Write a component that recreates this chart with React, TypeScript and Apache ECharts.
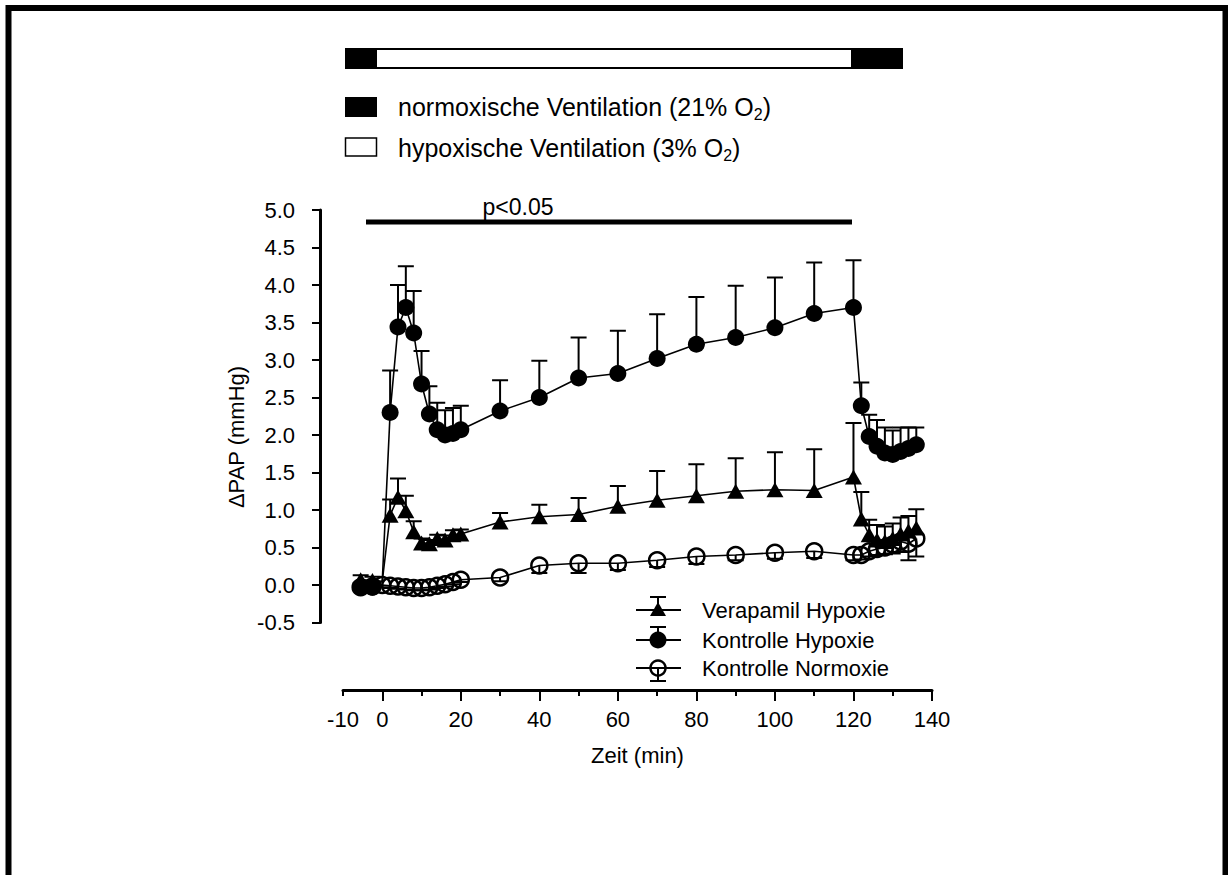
import React, { useEffect, useRef } from 'react';
import * as echarts from 'echarts';

const FONT = '"Liberation Sans", Arial, Helvetica, sans-serif';

// time points (min)
const times = [-5.5, -2.5, 0, 2, 4, 6, 8, 10, 12, 14, 16, 18, 20, 30, 40, 50, 60, 70, 80, 90, 100, 110, 120, 122, 124, 126, 128, 130, 132, 134, 136];

// Verapamil Hypoxie: mean and upper end of error bar
const verapamilMean = [0.07, 0.06, 0.05, 0.93, 1.17, 0.99, 0.71, 0.56, 0.55, 0.62, 0.60, 0.67, 0.68, 0.84, 0.91, 0.94, 1.05, 1.13, 1.19, 1.25, 1.27, 1.26, 1.44, 0.88, 0.67, 0.60, 0.58, 0.62, 0.68, 0.72, 0.76];
const verapamilUpper = [0.13, 0.11, null, 1.14, 1.42, 1.19, 0.85, 0.62, 0.60, 0.67, 0.66, 0.73, 0.74, 0.96, 1.07, 1.16, 1.32, 1.52, 1.61, 1.69, 1.77, 1.81, 2.16, 1.24, 0.87, 0.80, 0.78, 0.82, 0.90, 0.92, 1.01];

// Kontrolle Hypoxie
const hypoxieMean = [-0.03, -0.03, 0.05, 2.30, 3.44, 3.70, 3.36, 2.68, 2.28, 2.07, 2.00, 2.02, 2.07, 2.32, 2.50, 2.76, 2.82, 3.02, 3.21, 3.30, 3.43, 3.62, 3.70, 2.39, 1.98, 1.85, 1.76, 1.74, 1.78, 1.82, 1.87];
const hypoxieUpper = [0.02, 0.02, null, 2.86, 4.00, 4.25, 3.92, 3.12, 2.65, 2.43, 2.33, 2.36, 2.39, 2.73, 2.99, 3.30, 3.39, 3.61, 3.84, 3.99, 4.10, 4.30, 4.33, 2.70, 2.27, 2.20, 2.10, 2.06, 2.10, 2.10, 2.10];

// Kontrolle Normoxie: mean and lower end of error bar
const normoxieMean = [-0.03, -0.02, 0.00, -0.01, -0.02, -0.03, -0.04, -0.04, -0.03, -0.01, 0.01, 0.04, 0.07, 0.10, 0.26, 0.29, 0.29, 0.33, 0.38, 0.40, 0.43, 0.45, 0.40, 0.40, 0.45, 0.48, 0.50, 0.54, 0.58, 0.55, 0.62];
const normoxieLower = [-0.06, -0.05, -0.03, -0.04, -0.05, -0.06, -0.07, -0.07, -0.06, -0.04, -0.02, 0.01, 0.04, 0.05, 0.16, 0.16, 0.20, 0.24, 0.28, 0.33, 0.35, 0.36, 0.33, 0.34, 0.38, 0.40, 0.41, 0.42, 0.44, 0.33, 0.38];

// hypoxic series start at t = 0 without a visible marker
const hiddenMarkerTimes = [0];

const xMinorTicks = [-10, 10, 30, 50, 70, 90, 110, 130];
const xMajorTicks = [0, 20, 40, 60, 80, 100, 120, 140];
const xTickLabels = [-10, 0, 20, 40, 60, 80, 100, 120, 140];

const seriesNames = ['Verapamil Hypoxie', 'Kontrolle Hypoxie', 'Kontrolle Normoxie'];

function errorSeries(name: string, means: number[], ends: (number | null)[]) {
  const data: number[][] = [];
  times.forEach((t, i) => {
    const e = ends[i];
    if (e !== null && e !== undefined) data.push([t, means[i], e]);
  });
  return {
    type: 'custom',
    name: name + ' SEM',
    silent: true,
    z: 2,
    data,
    encode: { x: 0, y: [1, 2] },
    renderItem: (params: any, api: any) => {
      const x = api.value(0);
      const p1 = api.coord([x, api.value(1)]);
      const p2 = api.coord([x, api.value(2)]);
      return {
        type: 'group',
        children: [
          { type: 'line', shape: { x1: p1[0], y1: p1[1], x2: p2[0], y2: p2[1] }, style: { stroke: '#000', lineWidth: 2 } },
          { type: 'line', shape: { x1: p2[0] - 8, y1: p2[1], x2: p2[0] + 8, y2: p2[1] }, style: { stroke: '#000', lineWidth: 2 } },
        ],
      };
    },
  };
}

function lineData(means: number[], hideStart: boolean) {
  return times.map((t, i) =>
    hideStart && hiddenMarkerTimes.includes(t) ? { value: [t, means[i]], symbolSize: 0 } : [t, means[i]]
  );
}

export default function App() {
  const ref = useRef<HTMLDivElement>(null);
  useEffect(() => {
    if (!ref.current) return;
    const chart = echarts.init(ref.current, undefined, { renderer: 'svg' });
    const txt = { fontFamily: FONT, fontSize: 22, color: '#000' };
    const sub = (s: string) => ({
      text: s,
      rich: {
        a: { fontFamily: FONT, fontSize: 25, fill: '#000', lineHeight: 30 },
        s: { fontFamily: FONT, fontSize: 16, fill: '#000', lineHeight: 16, verticalAlign: 'bottom' },
      },
      verticalAlign: 'middle',
      align: 'left',
    });
    const legendRow = (y: number, kind: number) => {
      const cx = 658;
      const els: any[] = [
        { type: 'line', shape: { x1: 636, y1: y, x2: 681, y2: y }, style: { stroke: '#000', lineWidth: 2 } },
      ];
      const capY = kind === 2 ? y + 13 : y - 13;
      els.push({ type: 'line', shape: { x1: cx, y1: y, x2: cx, y2: capY }, style: { stroke: '#000', lineWidth: 2 } });
      els.push({ type: 'line', shape: { x1: cx - 8, y1: capY, x2: cx + 8, y2: capY }, style: { stroke: '#000', lineWidth: 2 } });
      if (kind === 0) {
        els.push({ type: 'polygon', shape: { points: [[cx, y - 8], [cx - 8, y + 6], [cx + 8, y + 6]] }, style: { fill: '#000' } });
      } else if (kind === 1) {
        els.push({ type: 'circle', shape: { cx, cy: y, r: 8.5 }, style: { fill: '#000' } });
      } else {
        els.push({ type: 'circle', shape: { cx, cy: y, r: 7.5 }, style: { fill: 'none', stroke: '#000', lineWidth: 2.5 } });
      }
      els.push({
        type: 'text', x: 702, y,
        style: { text: seriesNames[kind], fontFamily: FONT, fontSize: 22, fill: '#000', verticalAlign: 'middle', align: 'left' },
      });
      return els;
    };

    const option: any = {
      animation: false,
      backgroundColor: '#fff',
      grid: { left: 343, right: 296, top: 210, bottom: 252.5, containLabel: false },
      xAxis: [
        {
          type: 'value', min: -10, max: 140, interval: 10, position: 'bottom', offset: 67.5,
          axisLine: { show: true, onZero: false, lineStyle: { color: '#000', width: 3 } },
          axisTick: { show: true, length: 6, customValues: xMinorTicks, lineStyle: { color: '#000', width: 2 } },
          axisLabel: { show: true, customValues: xTickLabels, margin: 18, ...txt },
          splitLine: { show: false },
          name: 'Zeit (min)', nameLocation: 'middle', nameGap: 54,
          nameTextStyle: { ...txt },
        },
        {
          type: 'value', min: -10, max: 140, interval: 10, position: 'bottom', offset: 67.5,
          axisLine: { show: false, onZero: false },
          axisTick: { show: true, length: 11, customValues: xMajorTicks, lineStyle: { color: '#000', width: 2 } },
          axisLabel: { show: false },
          splitLine: { show: false },
        },
      ],
      yAxis: {
        type: 'value', min: -0.5, max: 5, interval: 0.5, position: 'left', offset: 23,
        axisLine: { show: true, onZero: false, lineStyle: { color: '#000', width: 3 } },
        axisTick: { show: true, length: 8, lineStyle: { color: '#000', width: 2 } },
        axisLabel: { formatter: (v: number) => v.toFixed(1), margin: 25, ...txt },
        splitLine: { show: false },
      },
      series: [
        errorSeries(seriesNames[2], normoxieMean, normoxieLower),
        {
          type: 'line', name: seriesNames[2], data: lineData(normoxieMean, false), z: 3,
          symbol: 'circle', symbolSize: 16,
          itemStyle: { color: 'rgba(0,0,0,0)', borderColor: '#000', borderWidth: 2.5 },
          lineStyle: { color: '#000', width: 1.6 },
        },
        errorSeries(seriesNames[0], verapamilMean, verapamilUpper),
        {
          type: 'line', name: seriesNames[0], data: lineData(verapamilMean, true), z: 3,
          symbol: 'triangle', symbolSize: [17, 15],
          itemStyle: { color: '#000' },
          lineStyle: { color: '#000', width: 1.6 },
        },
        errorSeries(seriesNames[1], hypoxieMean, hypoxieUpper),
        {
          type: 'line', name: seriesNames[1], data: lineData(hypoxieMean, true), z: 3,
          symbol: 'circle', symbolSize: 17,
          itemStyle: { color: '#000' },
          lineStyle: { color: '#000', width: 1.6 },
        },
      ],
      graphic: [
        { type: 'rect', shape: { x: 8.5, y: 8, width: 1217, height: 1000 }, style: { fill: 'none', stroke: '#000', lineWidth: 6 }, silent: true },
        // ventilation bar
        { type: 'rect', shape: { x: 345, y: 48, width: 558, height: 21 }, style: { fill: '#000' } },
        { type: 'rect', shape: { x: 377, y: 50, width: 474, height: 17 }, style: { fill: '#fff' } },
        // ventilation legend
        { type: 'rect', shape: { x: 345, y: 97, width: 32, height: 20 }, style: { fill: '#000' } },
        { type: 'rect', shape: { x: 345.5, y: 138, width: 31, height: 18 }, style: { fill: '#fff', stroke: '#000', lineWidth: 1.5 } },
        { type: 'text', x: 398, y: 107, style: sub('{a|normoxische Ventilation (21% O}{s|2}{a|)}') },
        { type: 'text', x: 398, y: 148, style: sub('{a|hypoxische Ventilation (3% O}{s|2}{a|)}') },
        // significance bar
        { type: 'line', shape: { x1: 366, y1: 222, x2: 852, y2: 222 }, style: { stroke: '#000', lineWidth: 5 } },
        { type: 'text', x: 518, y: 207, style: { text: 'p<0.05', fontFamily: FONT, fontSize: 23, fill: '#000', align: 'center', verticalAlign: 'middle' } },
        // y axis title
        { type: 'text', x: 236, y: 437, rotation: Math.PI / 2, style: { text: 'ΔPAP (mmHg)', fontFamily: FONT, fontSize: 22, fill: '#000', align: 'center', verticalAlign: 'middle' } },
        // series legend
        ...legendRow(610, 0),
        ...legendRow(640, 1),
        ...legendRow(668, 2),
      ],
    };
    chart.setOption(option);
    return () => chart.dispose();
  }, []);
  return <div ref={ref} style={{ position: 'absolute', left: 0, top: 0, width: 1228, height: 875 }} />;
}
